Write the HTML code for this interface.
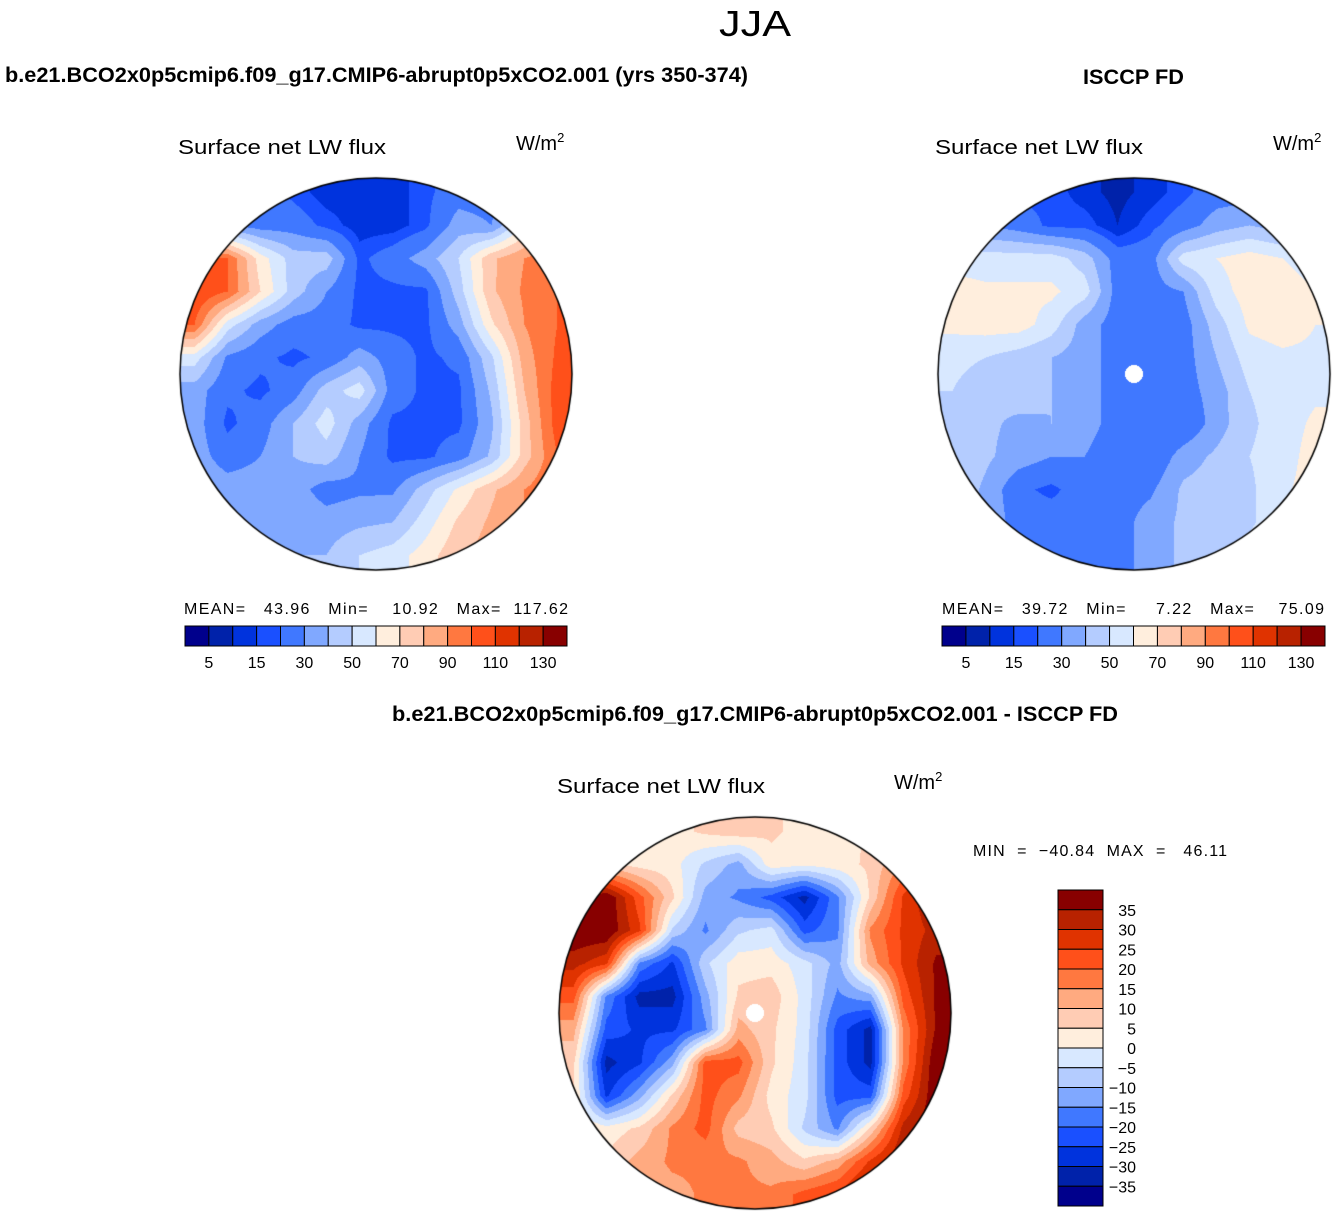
<!DOCTYPE html>
<html><head><meta charset="utf-8">
<style>
html,body{margin:0;padding:0;background:#fff;}
#wrap{position:relative;width:1336px;height:1217px;overflow:hidden;font-family:"Liberation Sans",sans-serif;}
canvas{position:absolute;}
svg{position:absolute;left:0;top:0;}
svg text{white-space:pre;}
</style></head>
<body>
<div id="wrap">
<canvas id="m1" width="396" height="396" style="left:178px;top:176px"></canvas>
<canvas id="m2" width="396" height="396" style="left:936px;top:176px"></canvas>
<canvas id="m3" width="396" height="396" style="left:557px;top:815px"></canvas>
<svg id="ov" width="1336" height="1217">
<text x="755" y="36" font-size="36" text-anchor="middle" font-weight="300" textLength="72" lengthAdjust="spacingAndGlyphs">JJA</text>
<text x="5" y="82" font-size="21" font-weight="bold" textLength="743" lengthAdjust="spacingAndGlyphs">b.e21.BCO2x0p5cmip6.f09_g17.CMIP6-abrupt0p5xCO2.001 (yrs 350-374)</text>
<text x="1083" y="84" font-size="21" font-weight="bold" textLength="101" lengthAdjust="spacingAndGlyphs">ISCCP FD</text>
<text x="392" y="721" font-size="21" font-weight="bold" textLength="726" lengthAdjust="spacingAndGlyphs">b.e21.BCO2x0p5cmip6.f09_g17.CMIP6-abrupt0p5xCO2.001 - ISCCP FD</text>

<text x="178" y="154" font-size="20" textLength="208" lengthAdjust="spacingAndGlyphs">Surface net LW flux</text>
<text x="516" y="150" font-size="20">W/m<tspan font-size="13" dy="-8">2</tspan></text>
<text x="935" y="154" font-size="20" textLength="208" lengthAdjust="spacingAndGlyphs">Surface net LW flux</text>
<text x="1273" y="150" font-size="20">W/m<tspan font-size="13" dy="-8">2</tspan></text>
<text x="557" y="793" font-size="20" textLength="208" lengthAdjust="spacingAndGlyphs">Surface net LW flux</text>
<text x="894" y="789" font-size="20">W/m<tspan font-size="13" dy="-8">2</tspan></text>

<text x="184" y="614" font-size="16" textLength="384" lengthAdjust="spacing">MEAN=   43.96   Min=    10.92   Max=  117.62</text>
<text x="942" y="614" font-size="16" textLength="382" lengthAdjust="spacing">MEAN=   39.72   Min=     7.22   Max=    75.09</text>
<text x="973" y="856" font-size="16" textLength="254" lengthAdjust="spacing">MIN  =  −40.84  MAX  =   46.11</text>
<g id="cb"></g>
</svg>
</div>
<script>
const absLevels=[5,10,15,20,30,40,50,60,70,80,90,100,110,120,130];
const absTickLabels=["5","15","30","50","70","90","110","130"];
const diffLevels=[-35,-30,-25,-20,-15,-10,-5,0,5,10,15,20,25,30,35];
const diffTickLabels=["35","30","25","20","15","10","5","0","−5","−10","−15","−20","−25","−30","−35"];
const palette=["#00008c","#0022aa","#0033dd","#1a50ff","#4078ff","#80a8ff","#b4ccff","#d8e8ff","#ffeedd","#ffccb4","#ffaa80","#ff7840","#ff501a","#e03300","#b82200","#880000"];

const modelGrid=[
[25,25,25,18,12,12,12,18,25,25,35,45],
[35,30,25,25,18,12,12,18,35,30,60,75],
[100,100,65,45,45,18,25,35,50,78,90,100],
[110,100,70,45,30,18,18,18,45,78,92,100],
[100,55,35,25,25,18,18,18,35,68,90,100],
[55,28,22,18,22,35,25,18,22,48,85,102],
[35,22,18,25,45,55,25,18,18,42,80,105],
[35,18,25,40,55,35,18,18,18,38,75,105],
[35,25,30,40,45,30,18,18,25,42,75,100],
[38,35,35,35,25,28,28,45,62,78,90,100],
[40,40,35,38,35,38,40,55,72,82,90,100],
[45,45,38,40,40,50,55,65,78,85,90,100]];
const obsGrid=[
[25,25,18,18,12,8,12,18,25,25,30,35],
[35,30,25,18,18,10,18,25,35,40,35,45],
[55,55,55,55,45,25,25,55,60,65,60,55],
[65,62,62,62,55,25,25,30,55,65,65,60],
[62,65,65,55,35,25,25,25,45,62,65,60],
[55,50,45,40,35,25,25,25,40,55,58,58],
[50,40,45,40,35,25,25,25,35,50,55,58],
[48,42,38,40,35,25,20,20,35,48,55,62],
[48,42,35,30,30,22,20,35,42,50,55,65],
[48,38,22,18,25,25,28,42,45,48,58,65],
[45,38,25,25,25,25,35,42,45,48,58,65],
[45,38,30,25,25,25,35,42,48,55,60,65]];
const diffGrid=[
[2,2,2,3,6,8,6,3,2,6,12,22],
[6,6,3,2,-6,-12,3,1,3,6,16,32],
[32,40,22,6,-12,-16,-22,-32,-16,6,26,36],
[40,40,26,-6,-16,-6,-3,-22,-16,16,26,32],
[32,26,-16,-26,-6,3,3,-3,-12,12,26,36],
[22,-16,-32,-32,-12,6,8,-2,-16,-12,22,36],
[12,-22,-26,-26,-16,12,6,-2,-22,-32,16,36],
[6,-32,-26,-12,22,22,6,-3,-22,-32,16,40],
[6,-26,-12,6,22,16,3,-3,-22,-22,22,40],
[6,2,6,16,22,8,6,-6,-16,6,32,40],
[6,6,12,16,16,16,12,6,12,26,36,40],
[6,6,12,13,16,16,16,22,26,36,40,40]];

function hex(c){return [parseInt(c.slice(1,3),16),parseInt(c.slice(3,5),16),parseInt(c.slice(5,7),16)];}
const rgb=palette.map(hex);
function cls(v,lev){let i=0;while(i<lev.length&&v>=lev[i])i++;return i;}
function drawMap(id,grid,lev,pole){
  const cv=document.getElementById(id),ctx=cv.getContext('2d');
  const W=cv.width,H=cv.height,n=grid.length,cs=W/n,cx=W/2,cy=H/2,R=196;
  const img=ctx.createImageData(W,H);
  for(let y=0;y<H;y++)for(let x=0;x<W;x++){
    const dx=x+0.5-cx,dy=y+0.5-cy;const d=Math.sqrt(dx*dx+dy*dy);
    const k=(y*W+x)*4;
    if(d>R){img.data[k+3]=0;continue;}
    let gx=(x+0.5)/cs-0.5,gy=(y+0.5)/cs-0.5;
    gx=Math.max(0,Math.min(n-1.001,gx));gy=Math.max(0,Math.min(n-1.001,gy));
    const i=Math.floor(gx),j=Math.floor(gy),fx=gx-i,fy=gy-j;
    const v=grid[j][i]*(1-fx)*(1-fy)+grid[j][i+1]*fx*(1-fy)+grid[j+1][i]*(1-fx)*fy+grid[j+1][i+1]*fx*fy;
    let c=rgb[cls(v+0.013,lev)];
    if(pole&&d<9)c=[255,255,255];
    img.data[k]=c[0];img.data[k+1]=c[1];img.data[k+2]=c[2];img.data[k+3]=255;
  }
  ctx.putImageData(img,0,0);
  ctx.beginPath();ctx.arc(cx,cy,R,0,Math.PI*2);ctx.lineWidth=1.5;ctx.strokeStyle='#000';ctx.stroke();
}
drawMap('m1',modelGrid,absLevels,false);
drawMap('m2',obsGrid,absLevels,true);
drawMap('m3',diffGrid,diffLevels,true);

const NS='http://www.w3.org/2000/svg';
const cb=document.getElementById('cb');
function mk(tag,attrs){const e=document.createElementNS(NS,tag);for(const a in attrs)e.setAttribute(a,attrs[a]);cb.appendChild(e);return e;}
function hBar(x0,y0,w,h,pre){
  const bw=w/palette.length;
  palette.forEach((c,i)=>{
    const r=mk('rect',{x:x0+i*bw,y:y0,width:bw,height:h,fill:c,stroke:'#000','stroke-width':1});
    
    
  });
  absTickLabels.forEach((t,k)=>{
    const tx=mk('text',{x:x0+(2*k+1)*bw,y:y0+h+22,'font-size':16,'text-anchor':'middle'});
    tx.textContent=t;
    
    
  });
}
hBar(185,626,382,20,'model');
hBar(942,626,383,20,'obs');
(function(){
  const x0=1058,y0=890,w=45,h=316,bh=h/palette.length;
  palette.slice().reverse().forEach((c,i)=>{
    const r=mk('rect',{x:x0,y:y0+i*bh,width:w,height:bh,fill:c,stroke:'#000','stroke-width':1});
    
    
  });
  diffTickLabels.forEach((t,k)=>{
    const tx=mk('text',{x:1136,y:y0+(k+1)*bh+6,'font-size':16,'text-anchor':'end'});
    tx.textContent=t;
    
    
  });
})();
</script>
</body></html>
